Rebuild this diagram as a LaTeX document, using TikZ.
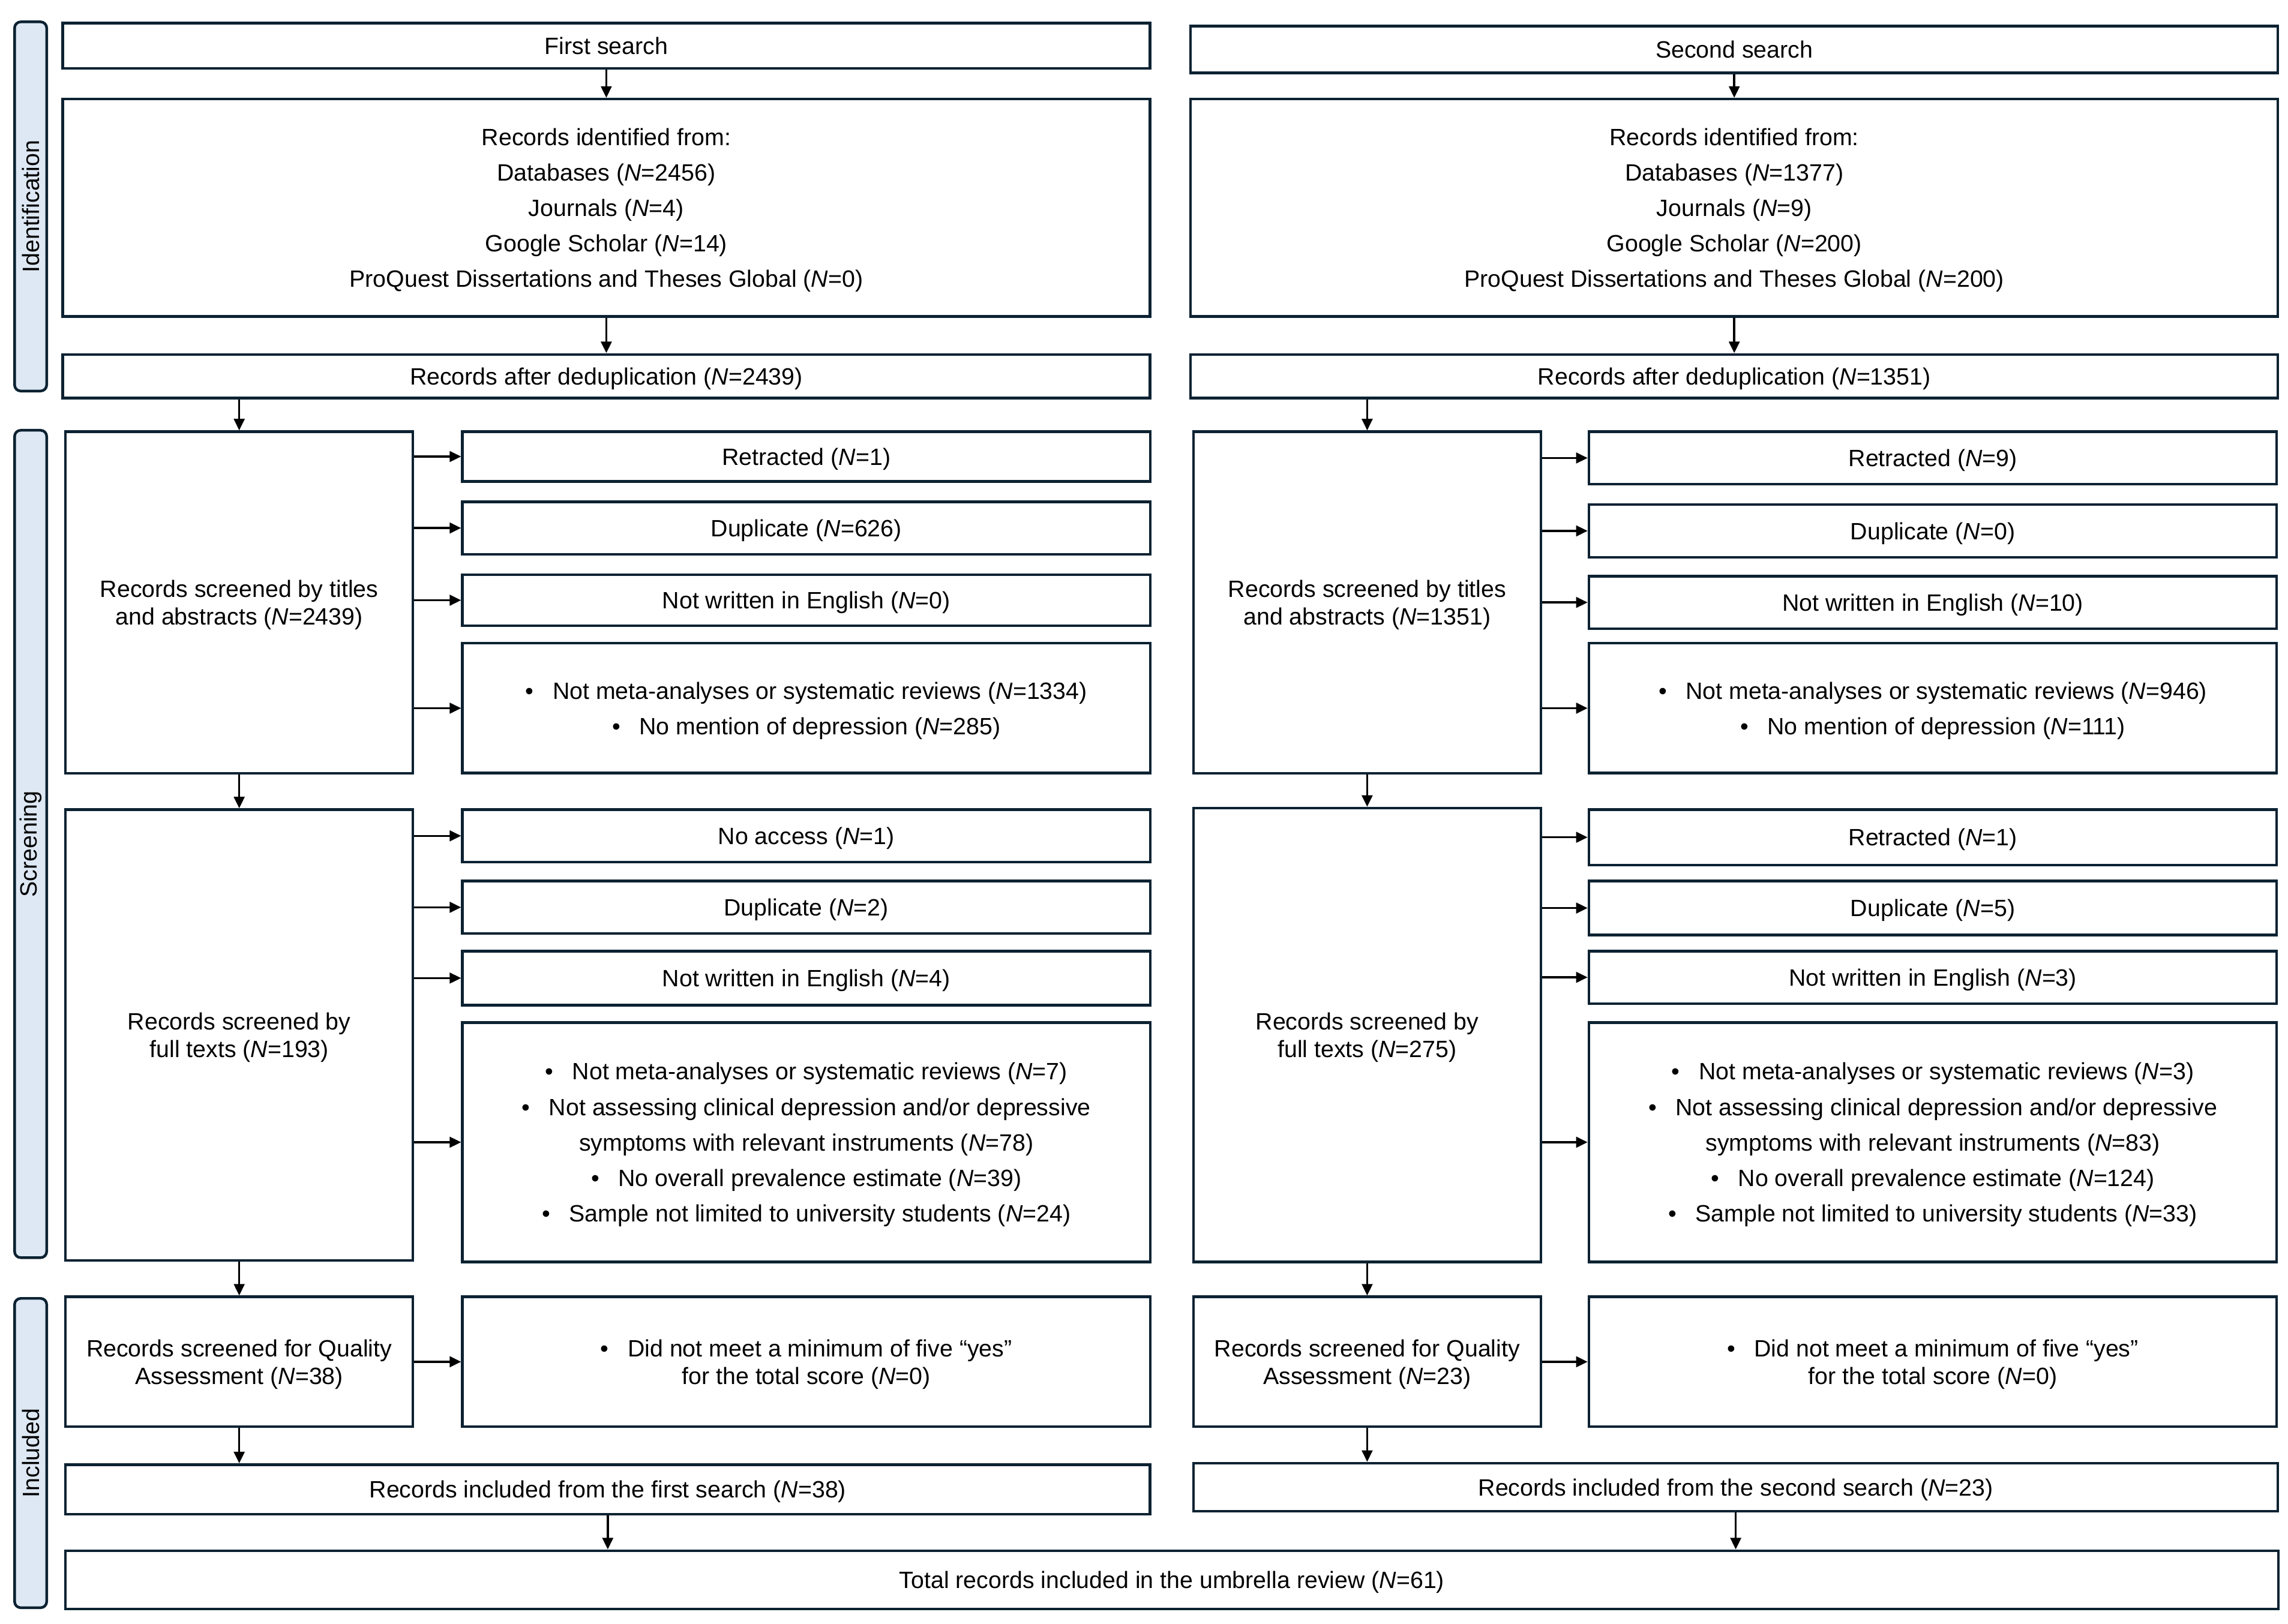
\documentclass[tikz,border=0pt]{standalone}
\usepackage{fontspec}
\setmainfont{Liberation Sans}
\usetikzlibrary{arrows.meta,positioning}
\definecolor{prline}{RGB}{12,34,50}
\definecolor{prphase}{RGB}{222,232,244}
\newcommand{\itm}{\textbullet\hspace{0.8em}}
\tikzset{
  prbox/.style={
    draw=prline, line width=1.3pt, fill=white, align=center,
    inner sep=2pt, anchor=north west, text depth=0pt,
    font=\fontsize{11.5}{13.5}\selectfont
  },
  loose/.style={font=\fontsize{11.5}{17.3}\selectfont, text depth=-2.3pt},
  wide/.style={prbox, minimum width=18.625cm},
  stagebox/.style={prbox, minimum width=5.95cm},
  excl/.style={prbox, minimum width=11.78cm},
  phase/.style={
    draw=prline, line width=1.3pt, fill=prphase, rounded corners=3pt,
    rotate=90, minimum height=0.55cm, inner sep=0pt,
    font=\fontsize{11.5}{13.5}\selectfont
  },
  arr/.style={-{Triangle[length=5.6pt,width=5.2pt]}, draw=black, line width=1pt}
}
\begin{document}
\begin{tikzpicture}[x=0.025cm, y=-0.025cm]
  \useasboundingbox (0,0) rectangle (1568,1113);
  % phases
  \node[phase, minimum width=6.325cm] (ph1) at (21,141.5) {Identification};
  \node[phase, minimum width=14.175cm] (ph2) at (21,578.5) {Screening};
  \node[phase, minimum width=5.3cm] (ph3) at (21,996) {Included};
  % first search
  \node[wide, minimum height=0.775cm] (srchA) at (42,15) {First search};
  \node[wide, loose, minimum height=3.725cm] (idA) at (42,67) {Records identified from:\\Databases (\textit{N}=2456)\\Journals (\textit{N}=4)\\Google Scholar (\textit{N}=14)\\ProQuest Dissertations and Theses Global (\textit{N}=0)};
  \node[wide, minimum height=0.75cm] (dedupA) at (42,242) {Records after deduplication (\textit{N}=2439)};
  \node[stagebox, minimum height=5.85cm] (scrA) at (44,295) {Records screened by titles\\and abstracts (\textit{N}=2439)};
  \node[excl, minimum height=0.85cm] (exA1) at (316,295) {Retracted (\textit{N}=1)};
  \node[excl, minimum height=0.9cm] (exA2) at (316,343) {Duplicate (\textit{N}=626)};
  \node[excl, minimum height=0.875cm] (exA3) at (316,393) {Not written in English (\textit{N}=0)};
  \node[excl, loose, minimum height=2.225cm] (exA4) at (316,440) {\itm Not meta-analyses or systematic reviews (\textit{N}=1334)\\\itm No mention of depression (\textit{N}=285)};
  \node[stagebox, minimum height=7.725cm] (fullA) at (44,554) {Records screened by\\full texts (\textit{N}=193)};
  \node[excl, minimum height=0.9cm] (fxA1) at (316,554) {No access (\textit{N}=1)};
  \node[excl, minimum height=0.9cm] (fxA2) at (316,603) {Duplicate (\textit{N}=2)};
  \node[excl, minimum height=0.925cm] (fxA3) at (316,651) {Not written in English (\textit{N}=4)};
  \node[excl, loose, minimum height=4.1cm] (fxA4) at (316,700) {\itm Not meta-analyses or systematic reviews (\textit{N}=7)\\\itm Not assessing clinical depression and/or depressive\\symptoms with relevant instruments (\textit{N}=78)\\\itm No overall prevalence estimate (\textit{N}=39)\\\itm Sample not limited to university students (\textit{N}=24)};
  \node[stagebox, minimum height=2.225cm] (qaA) at (44,888) {Records screened for Quality\\Assessment (\textit{N}=38)};
  \node[excl, minimum height=2.225cm] (qxA) at (316,888) {\itm Did not meet a minimum of five “yes”\\for the total score (\textit{N}=0)};
  \node[prbox, minimum width=18.575cm, minimum height=0.85cm] (inclA) at (44,1003) {Records included from the first search (\textit{N}=38)};
  % second search
  \node[wide, minimum height=0.8cm] (srchB) at (815,17) {Second search};
  \node[wide, loose, minimum height=3.725cm] (idB) at (815,67) {Records identified from:\\Databases (\textit{N}=1377)\\Journals (\textit{N}=9)\\Google Scholar (\textit{N}=200)\\ProQuest Dissertations and Theses Global (\textit{N}=200)};
  \node[wide, minimum height=0.75cm] (dedupB) at (815,242) {Records after deduplication (\textit{N}=1351)};
  \node[stagebox, minimum height=5.85cm] (scrB) at (817,295) {Records screened by titles\\and abstracts (\textit{N}=1351)};
  \node[excl, minimum height=0.9cm] (exB1) at (1088,295) {Retracted (\textit{N}=9)};
  \node[excl, minimum height=0.9cm] (exB2) at (1088,345) {Duplicate (\textit{N}=0)};
  \node[excl, minimum height=0.9cm] (exB3) at (1088,394) {Not written in English (\textit{N}=10)};
  \node[excl, loose, minimum height=2.225cm] (exB4) at (1088,440) {\itm Not meta-analyses or systematic reviews (\textit{N}=946)\\\itm No mention of depression (\textit{N}=111)};
  \node[stagebox, minimum height=7.775cm] (fullB) at (817,553) {Records screened by\\full texts (\textit{N}=275)};
  \node[excl, minimum height=0.95cm] (fxB1) at (1088,554) {Retracted (\textit{N}=1)};
  \node[excl, minimum height=0.925cm] (fxB2) at (1088,603) {Duplicate (\textit{N}=5)};
  \node[excl, minimum height=0.9cm] (fxB3) at (1088,651) {Not written in English (\textit{N}=3)};
  \node[excl, loose, minimum height=4.1cm] (fxB4) at (1088,700) {\itm Not meta-analyses or systematic reviews (\textit{N}=3)\\\itm Not assessing clinical depression and/or depressive\\symptoms with relevant instruments (\textit{N}=83)\\\itm No overall prevalence estimate (\textit{N}=124)\\\itm Sample not limited to university students (\textit{N}=33)};
  \node[stagebox, minimum height=2.225cm] (qaB) at (817,888) {Records screened for Quality\\Assessment (\textit{N}=23)};
  \node[excl, minimum height=2.225cm] (qxB) at (1088,888) {\itm Did not meet a minimum of five “yes”\\for the total score (\textit{N}=0)};
  \node[prbox, minimum width=18.575cm, minimum height=0.825cm] (inclB) at (817,1002) {Records included from the second search (\textit{N}=23)};
  % total
  \node[prbox, minimum width=37.9cm, minimum height=1cm] (total) at (44,1062) {Total records included in the umbrella review (\textit{N}=61)};
  % arrows
  \foreach \s in {A,B} {
    \draw[arr] (srch\s) -- (id\s);
    \draw[arr] (id\s) -- (dedup\s);
    \draw[arr] (scr\s.north |- dedup\s.south) -- (scr\s.north);
    \draw[arr] (scr\s) -- (full\s);
    \draw[arr] (full\s) -- (qa\s);
    \draw[arr] (qa\s) -- (qx\s);
    \draw[arr] (qa\s.south) -- (qa\s.south |- incl\s.north);
    \draw[arr] (incl\s.south) -- (incl\s.south |- total.north);
    \foreach \n in {ex\s1,ex\s2,ex\s3,ex\s4,fx\s1,fx\s2,fx\s3,fx\s4}
      \draw[arr] (scr\s.east |- \n.west) -- (\n.west);
  }
\end{tikzpicture}
\end{document}
